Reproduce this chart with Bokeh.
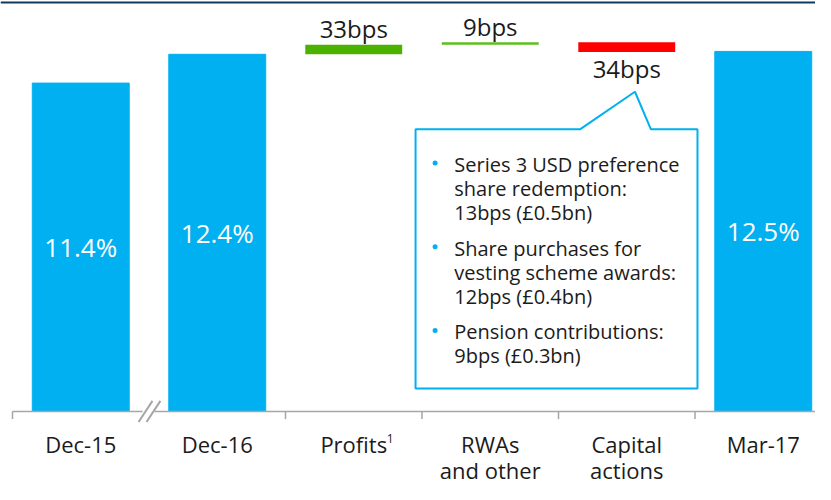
from bokeh.plotting import figure
from bokeh.models import Range1d
from bokeh.core.properties import value
from bokeh.embed import file_html
from bokeh.resources import INLINE

# ---------------- data ----------------
categories = ["Dec-15", "Dec-16", "Profits", "RWAs\nand other", "Capital\nactions", "Mar-17"]
ratio_idx = [0, 1, 5]
ratios = [11.4, 12.4, 12.5]
ratio_labels = ["11.4%", "12.4%", "12.5%"]
move_idx = [2, 3, 4]
move_bps = [33, 9, -34]
move_labels = ["33bps", "9bps", "34bps"]
move_colors = ["#4CB200", "#5CBF1F", "#FF0000"]
callout_items = [
    ["Series 3 USD preference", "share redemption:", "13bps (£0.5bn)"],
    ["Share purchases for", "vesting scheme awards:", "12bps (£0.4bn)"],
    ["Pension contributions:", "9bps (£0.3bn)"],
]

# ---------------- layout ----------------
W, H = 815, 484
# layout positions below are given in a 831x500 design grid, mapped onto the figure
CAT_W = 137.5      # design px per category
X0 = 12.0          # design px of the left edge of first category
BASE = 427.0       # design px of the zero line
PPP = 30.0         # design px per percentage point
SX = 136.5 / 137.5
SY = 0.96
BLUE = "#00B0F0"
TXT = "#1B1B1B"
FONT = value("Open Sans")


def rx(dx):
    """design x -> data x"""
    return (dx - X0) / CAT_W - 0.5


def ry(dy):
    """design y -> data y"""
    return (BASE - dy) / PPP


def inv_x(px):
    return X0 + (px - X0) / SX


def inv_y(py):
    return (py - 1.0) / SY


p = figure(width=W, height=H,
           x_range=Range1d(rx(inv_x(0)), rx(inv_x(W))),
           y_range=Range1d(ry(inv_y(H)), ry(inv_y(0))),
           output_backend="svg", toolbar_location=None, min_border=0,
           x_axis_location=None, y_axis_location=None,
           outline_line_color=None, background_fill_color="white",
           border_fill_color="white")
p.grid.visible = False

# thin dark line at the very top
p.segment(x0=[rx(inv_x(0))], x1=[rx(inv_x(W))], y0=[ry(1)], y1=[ry(1)],
          line_color="#0F3B5F", line_width=2)

BAR_W = 0.71

# totals
p.vbar(x=ratio_idx, top=ratios, bottom=0, width=BAR_W, fill_color=BLUE, line_color=BLUE)
p.text(x=ratio_idx, y=[r / 2 for r in ratios], text=ratio_labels, text_color="white",
       text_font=FONT, text_font_size="26px", text_align="center", text_baseline="middle")

# movements (waterfall)
level = ratios[1]
bottoms, tops, label_y, label_off = [], [], [], []
for m in move_bps:
    new = level + m / 100.0
    bottoms.append(min(level, new))
    tops.append(max(level, new))
    label_y.append(new)
    label_off.append(-16 if m >= 0 else 17)
    level = new
p.vbar(x=move_idx, top=tops, bottom=bottoms, width=BAR_W, fill_color=move_colors,
       line_color=None)
p.text(x=move_idx, y=label_y, text=move_labels, y_offset=label_off, text_color=TXT,
       text_font=FONT, text_font_size="24px", text_align="center", text_baseline="middle")

# x axis line with break
AX = "#A6A6A6"
p.segment(x0=[rx(12), rx(155)], x1=[rx(143), rx(inv_x(W))], y0=[0, 0], y1=[0, 0],
          line_color=AX, line_width=1.5)
tick_x = [-0.5, 1.5, 2.5, 3.5, 4.5]
p.segment(x0=tick_x, x1=tick_x, y0=[0] * 5, y1=[ry(BASE + 8)] * 5, line_color=AX, line_width=1.5)
# break marks "//"
brk0 = [139.0, 147.0]
p.segment(x0=[rx(b) for b in brk0], x1=[rx(b + 14) for b in brk0],
          y0=[ry(438)] * 2, y1=[ry(416)] * 2, line_color=AX, line_width=2)

# category labels
first = [c.split("\n")[0] for c in categories]
second = [c.split("\n")[1] if "\n" in c else "" for c in categories]
xs = list(range(len(categories)))
p.text(x=xs, y=[ry(460.5)] * len(xs), text=first, text_color=TXT, text_font=FONT,
       text_font_size="22px", text_align="center", text_baseline="middle")
p.text(x=xs, y=[ry(488.5)] * len(xs), text=second, text_color=TXT, text_font=FONT,
       text_font_size="22px", text_align="center", text_baseline="middle")
# superscript footnote marker on "Profits"
p.text(x=[2], y=[ry(455)], text=["1"], x_offset=[33], text_color=TXT, text_font=FONT,
       text_font_size="12px", text_align="left", text_baseline="middle")

# callout box with pointer (design px)
L, R, T, B = 418, 702, 133, 403
poly = [(L, T), (584, T), (639, 94), (655, T), (R, T), (R, B), (L, B)]
p.patch(x=[rx(a) for a, b in poly], y=[ry(b) for a, b in poly], fill_color="white",
        line_color=BLUE, line_width=2)

line_step, item_gap = 25.0, 37.3
yy = 169.5          # cap-middle of the first callout line
tx, ty, bxs, bys = [], [], [], []
for item in callout_items:
    bxs.append(rx(437.7))
    bys.append(ry(yy - 1.3))
    for k, line in enumerate(item):
        tx.append(line)
        ty.append(ry(yy))
        if k < len(item) - 1:
            yy += line_step
    yy += item_gap
p.scatter(x=bxs, y=bys, size=5, fill_color=BLUE, line_color=None)
p.text(x=[rx(457)] * len(tx), y=ty, text=tx, text_color=TXT, text_font=FONT,
       text_font_size="20px", text_align="left", text_baseline="middle")

open("out.html", "w").write(file_html(p, INLINE))
